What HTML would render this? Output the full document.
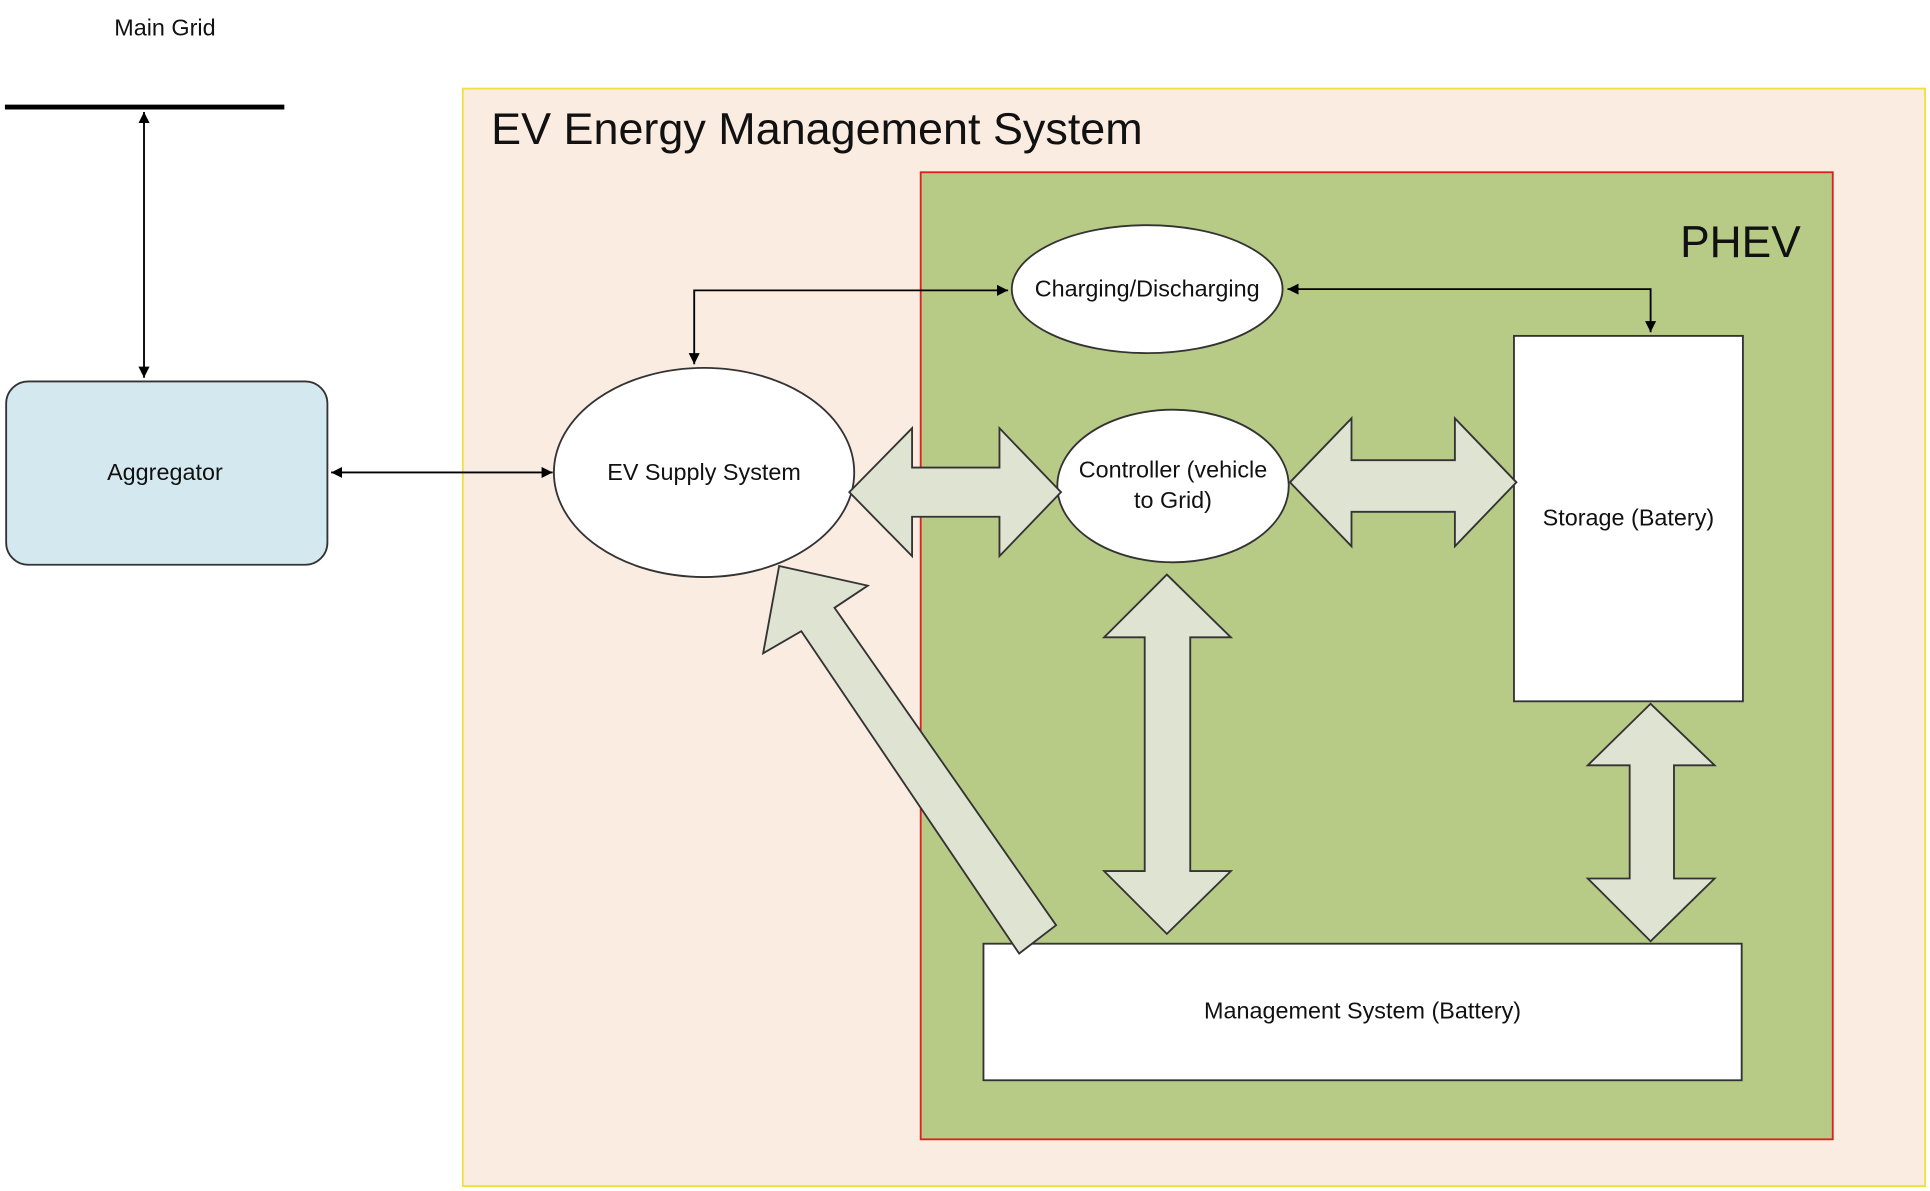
<!DOCTYPE html>
<html><head><meta charset="utf-8"><style>html,body{margin:0;padding:0;background:#fff}svg{display:block}</style></head>
<body>
<svg width="1930" height="1191" viewBox="0 0 1568 968" preserveAspectRatio="none" xmlns="http://www.w3.org/2000/svg" font-family="Liberation Sans, sans-serif">
<defs>
<marker id="a" viewBox="0 0 10 10" refX="10" refY="5" markerWidth="9" markerHeight="9" orient="auto-start-reverse" markerUnits="userSpaceOnUse"><path d="M0,0 L10,5 L0,10 z" fill="#000"/></marker>
</defs>
<text x="134" y="29" font-size="19" text-anchor="middle" fill="#111">Main Grid</text>
<line x1="4" y1="87" x2="231" y2="87" stroke="#000" stroke-width="4"/>
<line x1="117" y1="91" x2="117" y2="307" stroke="#000" stroke-width="1.5" marker-start="url(#a)" marker-end="url(#a)"/>
<rect x="5" y="310" width="261" height="149" rx="18" fill="#d4e9ef" stroke="#333" stroke-width="1.5"/>
<text x="134" y="390" font-size="19" text-anchor="middle" fill="#111">Aggregator</text>
<rect x="376" y="72" width="1188" height="892" fill="#fbece2" stroke="#f0e040" stroke-width="1.5"/>
<line x1="269" y1="384" x2="449" y2="384" stroke="#000" stroke-width="1.5" marker-start="url(#a)" marker-end="url(#a)"/>
<text x="399" y="117" font-size="36.5" fill="#111">EV Energy Management System</text>
<rect x="748" y="140" width="741" height="786" fill="#b7cb87" stroke="#e02020" stroke-width="1.5"/>
<text x="1365" y="209" font-size="36" fill="#111">PHEV</text>
<polyline points="564,296 564,236 819,236" fill="none" stroke="#000" stroke-width="1.5" marker-start="url(#a)" marker-end="url(#a)"/>
<polyline points="1046,235 1341,235 1341,270" fill="none" stroke="#000" stroke-width="1.5" marker-start="url(#a)" marker-end="url(#a)"/>
<ellipse cx="932" cy="235" rx="110" ry="52" fill="#fff" stroke="#333" stroke-width="1.5"/>
<text x="932" y="241" font-size="19" text-anchor="middle" fill="#111">Charging/Discharging</text>
<ellipse cx="572" cy="384" rx="122" ry="85" fill="#fff" stroke="#333" stroke-width="1.5"/>
<text x="572" y="390" font-size="19" text-anchor="middle" fill="#111">EV Supply System</text>
<ellipse cx="953" cy="395" rx="94" ry="62" fill="#fff" stroke="#333" stroke-width="1.5"/>
<text x="953" y="388" font-size="19" text-anchor="middle" fill="#111">Controller (vehicle</text>
<text x="953" y="413" font-size="19" text-anchor="middle" fill="#111">to Grid)</text>
<rect x="1230" y="273" width="186" height="297" fill="#fff" stroke="#333" stroke-width="1.5"/>
<text x="1323" y="427" font-size="19" text-anchor="middle" fill="#111">Storage (Batery)</text>
<rect x="799" y="767" width="616" height="111" fill="#fff" stroke="#333" stroke-width="1.5"/>
<text x="1107" y="828" font-size="19" text-anchor="middle" fill="#111">Management System (Battery)</text>
<g fill="#dfe3d2" stroke="#333" stroke-width="1.5">
<polygon points="690,400 741,348 741,380 812,380 812,348 862,400 812,452 812,420 741,420 741,452"/>
<polygon points="1048,392 1098,340 1098,374 1182,374 1182,340 1232,392 1182,444 1182,416 1098,416 1098,444"/>
<polygon points="948,467 1000,518 967,518 967,708 1000,708 948,759 897,708 930,708 930,518 897,518"/>
<polygon points="1341,572 1393,622 1360,622 1360,714 1393,714 1341,765 1290,714 1324,714 1324,622 1290,622"/>
<polygon points="633,460 705,476 678,494 858,752 828,775 651,513 620,531"/>
</g>
</svg>
</body></html>
